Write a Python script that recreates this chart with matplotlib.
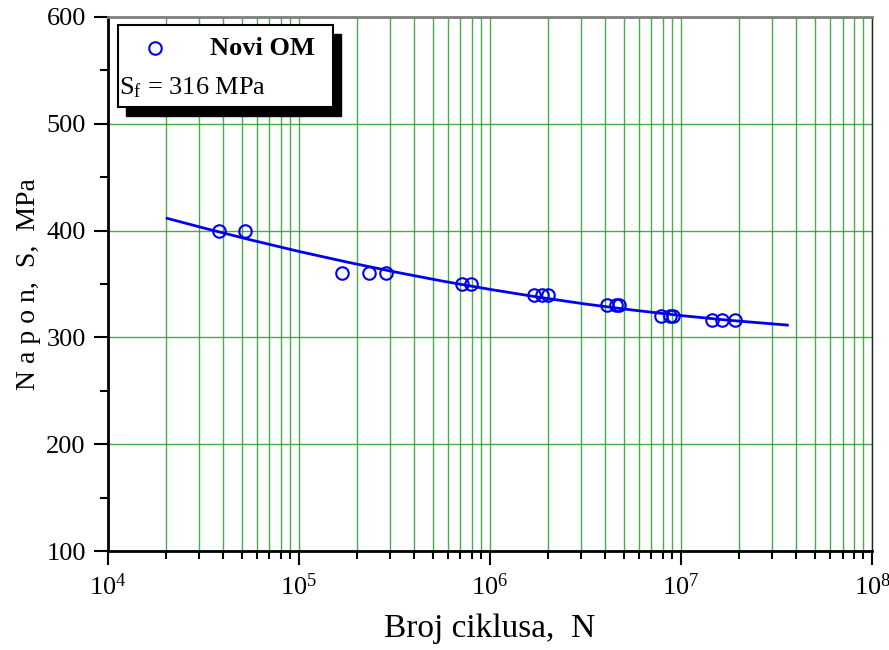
import matplotlib
import numpy as np
import matplotlib.pyplot as plt
from matplotlib.patches import Rectangle
from matplotlib.ticker import LogLocator, MultipleLocator

matplotlib.use('Agg')

plt.rcParams['font.family'] = ['Liberation Serif', 'DejaVu Serif']
plt.rcParams['mathtext.fontset'] = 'custom'
plt.rcParams['mathtext.rm'] = 'Liberation Serif'
plt.rcParams['mathtext.it'] = 'Liberation Serif:italic'

# Test points (cycles to failure, stress amplitude)
cycles = [3.8e4, 5.2e4, 1.68e5, 2.32e5, 2.85e5, 7.1e5, 7.95e5,
          1.70e6, 1.87e6, 2.01e6, 4.10e6, 4.57e6, 4.73e6,
          7.85e6, 8.76e6, 9.08e6, 1.45e7, 1.64e7, 1.92e7]
stress = [400, 400, 360, 360, 360, 350, 350,
          340, 340, 340, 330, 330, 330,
          320, 320, 320, 316, 316, 316]

# Fitted curve
fit_cycles = [2.04e4, 3.16e4, 5.62e4, 1e5, 1.78e5, 3.16e5, 5.62e5,
              1e6, 1.78e6, 3.16e6, 5.62e6, 1e7, 1.78e7, 3.6e7]
fit_stress = [411.5, 402.5, 391.2, 380.5, 370.6, 361.4, 352.8,
              345.0, 337.8, 331.3, 325.6, 320.5, 316.1, 311.6]

fig = plt.figure(figsize=(8.89, 6.5), dpi=100)
ax = fig.add_axes([0.1215, 0.152, 0.8595, 0.822])

ax.set_xscale('log')
ax.set_xlim(1e4, 1e8)
ax.set_ylim(100, 600)

ax.plot(fit_cycles, fit_stress, color='#0000ee', lw=2, zorder=3)
ax.plot(cycles, stress, 'o', ms=9, mfc='none', mec='#0000ee', mew=1.5, zorder=4)

# Grid
ax.xaxis.set_major_locator(LogLocator(base=10, numticks=10))
ax.xaxis.set_minor_locator(LogLocator(base=10, subs=np.arange(2, 10), numticks=20))
ax.yaxis.set_major_locator(MultipleLocator(100))
ax.yaxis.set_minor_locator(MultipleLocator(50))
ax.grid(True, which='both', axis='x', color='#2e9a2e', lw=1.0, alpha=0.85)
ax.grid(True, which='major', axis='y', color='#2e9a2e', lw=1.0, alpha=0.85)
ax.set_axisbelow(True)

ax.tick_params(axis='both', which='major', direction='out', length=10, width=1.5,
               labelsize=19, pad=6)
ax.tick_params(axis='both', which='minor', direction='out', length=6, width=1.5)

for s in ['left', 'bottom']:
    ax.spines[s].set_linewidth(2)
    ax.spines[s].set_color('black')
ax.spines['top'].set_color('#808080')
ax.spines['top'].set_linewidth(2)
ax.spines['right'].set_color('#222222')
ax.spines['right'].set_linewidth(1)

ax.set_xlabel('Broj ciklusa,  N', fontsize=24, labelpad=10)
ax.set_ylabel('N a p o n,  S,  MPa', fontsize=20, labelpad=4)

# Legend box with shadow
bx, by, bw, bh = 0.0135, 0.832, 0.2815, 0.153
ax.add_patch(Rectangle((bx + 0.0105, by - 0.017), bw, bh, transform=ax.transAxes,
                       facecolor='black', edgecolor='black', zorder=5, clip_on=False))
ax.add_patch(Rectangle((bx, by), bw, bh, transform=ax.transAxes,
                       facecolor='white', edgecolor='black', lw=1.5, zorder=6, clip_on=False))
ax.plot([0.0615], [0.941], 'o', ms=9, mfc='none', mec='#0000ee', mew=1.5,
        transform=ax.transAxes, zorder=7, clip_on=False)
ax.text(0.2025, 0.941, 'Novi OM', transform=ax.transAxes, fontsize=19,
        fontweight='bold', ha='center', va='center', zorder=7)
ax.text(0.015, 0.868, r'S$_{\mathrm{f}}$ = 316 MPa', transform=ax.transAxes, fontsize=19,
        ha='left', va='center', zorder=7)

fig.savefig('out.png', dpi=100)
